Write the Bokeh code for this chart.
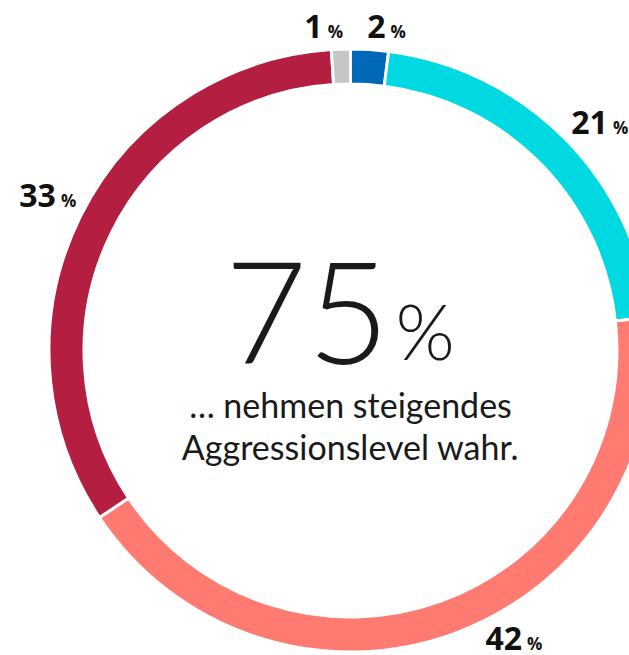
import math
from bokeh.plotting import figure
from bokeh.models import Range1d
from bokeh.core.properties import value
from bokeh.embed import file_html
from bokeh.resources import INLINE

# ---- data ----
labels = ["2", "21", "42", "33", "1"]
shares = [2, 21, 42, 33, 1]
colors = ["#0068B8", "#00D8E2", "#FF7B72", "#B41E40", "#C6C6C6"]
headline = "75"
subtitle = ["… nehmen steigendes", "Aggressionslevel wahr."]

# ---- layout ----
W, H = 629, 655
cx, cy = 350, 305          # donut centre (data units = px, y up)
r_out, r_in = 301.5, 266.5
label_nudge_deg = [3.2, 4.6, -10.3, 0.0, -2.8]
label_radius = [316, 339, 345, 326, 315]
BL = 0.31                   # baseline compensation (fraction of font size)

p = figure(width=W, height=H, x_range=Range1d(0, W), y_range=Range1d(0, H),
           output_backend="svg", toolbar_location=None, min_border=0,
           x_axis_location=None, y_axis_location=None)
p.grid.visible = False
p.outline_line_color = None
p.background_fill_color = "white"

total = sum(shares)
cum = 0.0
starts, ends, mids = [], [], []
for s in shares:
    a0 = cum / total * 360.0
    cum += s
    a1 = cum / total * 360.0
    starts.append(math.radians(90 - a0))
    ends.append(math.radians(90 - a1))
    mids.append((a0 + a1) / 2)

p.annular_wedge(x=[cx] * len(shares), y=[cy] * len(shares), inner_radius=r_in, outer_radius=r_out,
                start_angle=starts, end_angle=ends, direction="clock",
                fill_color=colors, line_color="white", line_width=3)

lx, ly = [], []
for m, d, r in zip(mids, label_nudge_deg, label_radius):
    t = math.radians(m + d)
    lx.append(cx + r * math.sin(t))
    ly.append(cy + r * math.cos(t))

p.text(x=lx, y=[v + BL * 32 for v in ly], text=labels, text_align="right", text_baseline="alphabetic",
       x_offset=-2.5, text_font=value("Open Sans"), text_font_style="bold",
       text_font_size="32px", text_color="#111111")
p.text(x=lx, y=[v + BL * 17 for v in ly], text=["%"] * len(labels), text_align="left",
       text_baseline="alphabetic", x_offset=2.5, text_font=value("Open Sans"),
       text_font_style="bold", text_font_size="17px", text_color="#111111")

# centre texts
p.text(x=[cx + 39], y=[cy - 7 + BL * 142], text=[headline], text_align="right",
       text_baseline="alphabetic", text_font=value("Lato Light"), text_font_size="142px",
       text_color="#1a1a1a")
p.text(x=[cx + 45], y=[cy - 7 + 0.36 * 76], text=["%"], text_align="left",
       text_baseline="alphabetic", text_font=value("Lato Light"), text_font_size="76px",
       text_color="#1a1a1a")
p.text(x=[cx, cx], y=[cy - 66 + 0.34 * 34, cy - 108 + 0.34 * 34], text=subtitle,
       text_align="center", text_baseline="alphabetic", text_font=value("Lato"),
       text_font_size="34px", text_color="#1a1a1a")

open("out.html", "w").write(file_html(p, INLINE))
